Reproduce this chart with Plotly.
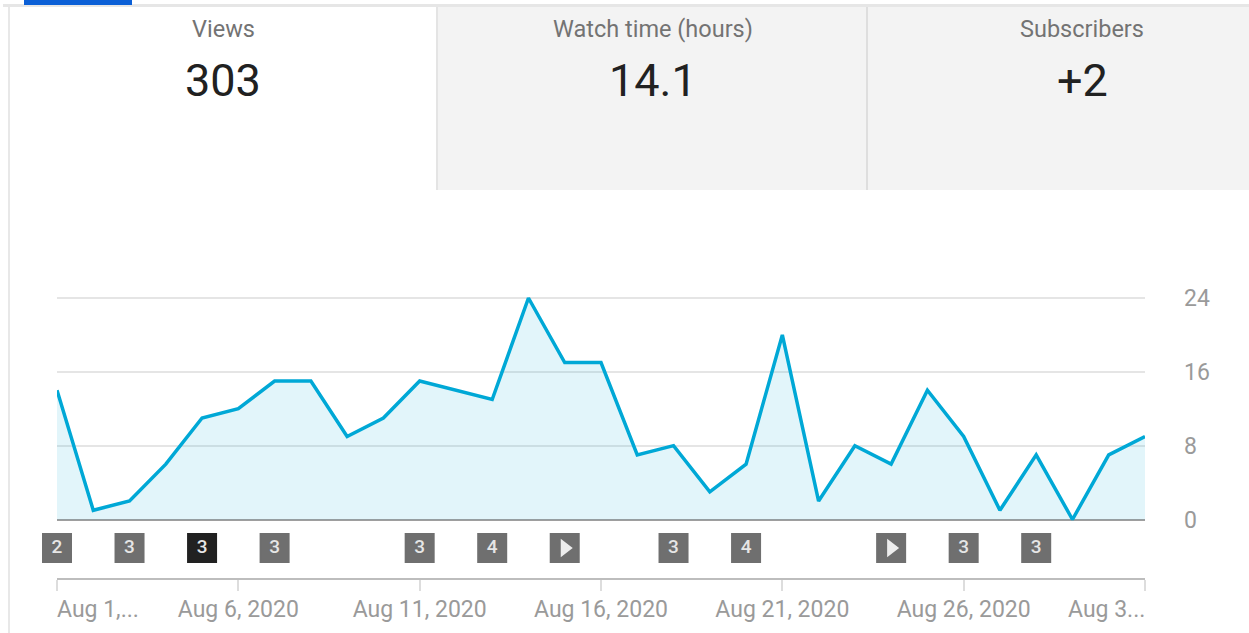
import plotly.graph_objects as go

W, H = 1249, 633
dates = [f"2020-08-{d:02d}" for d in range(1, 32)]
views = [14, 1, 2, 6, 11, 12, 15, 15, 9, 11, 15, 14, 13, 24, 17, 17, 7, 8, 3, 6, 20, 2, 8, 6, 14, 9, 1, 7, 0, 7, 9]

badge_dates = ["2020-08-01", "2020-08-03", "2020-08-05", "2020-08-07", "2020-08-11", "2020-08-13",
               "2020-08-15", "2020-08-18", "2020-08-20", "2020-08-24", "2020-08-26", "2020-08-28"]
badge_labels = ["2", "3", "3", "3", "3", "4", "", "3", "4", "", "3", "3"]
badge_colors = ["#6f6f6f", "#6f6f6f", "#212121"] + ["#6f6f6f"] * 9
badge_y = -3.1
play_dates = ["2020-08-15", "2020-08-24"]

tick_dates = ["2020-08-01", "2020-08-06", "2020-08-11", "2020-08-16", "2020-08-21", "2020-08-26", "2020-08-31"]
tick_text = ["", "Aug 6, 2020", "Aug 11, 2020", "Aug 16, 2020", "Aug 21, 2020", "Aug 26, 2020", ""]
y_ticks = [0, 8, 16, 24]

tab_titles = ["Views", "Watch time (hours)", "Subscribers"]
tab_values = ["303", "14.1", "+2"]
tab_centers = [223, 653, 1082]

FONT = "Roboto"


def px(x):
    return x / W


def py(y):
    return 1 - y / H


fig = go.Figure()
fig.add_trace(go.Scatter(x=dates, y=views, mode="lines", fill="tozeroy", fillcolor="rgba(0,168,214,0.115)",
                         line=dict(color="#00a8d6", width=3.5), hoverinfo="skip", cliponaxis=False))
fig.add_trace(go.Scatter(x=badge_dates, y=[badge_y] * len(badge_dates), mode="markers+text", text=badge_labels,
                         textposition="middle center",
                         textfont=dict(family=FONT, size=19, color="#e6e6e6", weight=500),
                         marker=dict(symbol="square", size=28, color=badge_colors,
                                     line=dict(width=2, color=badge_colors)),
                         hoverinfo="skip", cliponaxis=False))
fig.add_trace(go.Scatter(x=play_dates, y=[badge_y] * len(play_dates), mode="markers",
                         marker=dict(symbol="triangle-right", size=16, color="#ededed"), hoverinfo="skip",
                         cliponaxis=False))

shapes = [
    dict(type="rect", xref="paper", yref="paper", x0=px(438), x1=1, y0=py(190), y1=py(7),
         fillcolor="#f3f3f3", line_width=0, layer="below"),
    dict(type="line", xref="paper", yref="paper", x0=px(437), x1=px(437), y0=py(190), y1=py(7),
         line=dict(color="#e4e4e4", width=2), layer="below"),
    dict(type="line", xref="paper", yref="paper", x0=px(867), x1=px(867), y0=py(190), y1=py(7),
         line=dict(color="#dedede", width=2), layer="below"),
    dict(type="line", xref="paper", yref="paper", x0=px(9), x1=px(9), y0=0, y1=py(7),
         line=dict(color="#e8e8e8", width=2), layer="below"),
    dict(type="rect", xref="paper", yref="paper", x0=px(3), x1=1, y0=py(7), y1=py(4),
         fillcolor="#e6e6e6", line_width=0, layer="below"),
    dict(type="rect", xref="paper", yref="paper", x0=px(24), x1=px(132), y0=py(5), y1=1,
         fillcolor="#0b5fd6", line_width=0, layer="below"),
]

annotations = []
for c, t, v in zip(tab_centers, tab_titles, tab_values):
    annotations.append(dict(x=px(c), y=py(29), xref="paper", yref="paper", text=t, showarrow=False,
                            xanchor="center", yanchor="middle",
                            font=dict(family=FONT, size=23.5, color="#737373")))
    annotations.append(dict(x=px(c), y=py(80), xref="paper", yref="paper", text=v, showarrow=False,
                            xanchor="center", yanchor="middle",
                            font=dict(family=FONT, size=45, color="#212121")))
annotations.append(dict(x=px(57), y=py(609), xref="paper", yref="paper", text="Aug 1,...", xanchor="left",
                        yanchor="middle", xshift=-2, showarrow=False,
                        font=dict(family=FONT, size=23, color="#9a9a9a")))
annotations.append(dict(x=px(1145), y=py(609), xref="paper", yref="paper", text="Aug 3...", xanchor="right",
                        yanchor="middle", xshift=2, showarrow=False,
                        font=dict(family=FONT, size=23, color="#9a9a9a")))

UNIT = (519.5 - 298) / 24
ytop, ybot = 26, (519.5 - 577.5) / UNIT
fig.update_layout(
    width=W, height=H, margin=dict(l=0, r=0, t=0, b=0), paper_bgcolor="white", plot_bgcolor="white",
    showlegend=False, shapes=shapes, annotations=annotations, hovermode=False,
    font=dict(family=FONT),
    xaxis=dict(type="date", domain=[px(57), px(1145)], range=["2020-08-01", "2020-08-31"], tickvals=tick_dates,
               ticktext=tick_text, ticks="outside", ticklen=11, tickwidth=2, tickcolor="#dddddd",
               showgrid=False, showline=True, linecolor="#bdbdbd", linewidth=2, zeroline=False,
               ticklabelstandoff=-1, tickfont=dict(family=FONT, size=23, color="#9a9a9a")),
    yaxis=dict(side="right", domain=[py(519.5 + (-ybot) * UNIT), py(519.5 - ytop * UNIT)], range=[ybot, ytop],
               tickvals=y_ticks, ticktext=[str(v) for v in y_ticks], ticks="", showline=False,
               gridcolor="#e5e5e5", gridwidth=2, zeroline=True, zerolinecolor="#9e9e9e", zerolinewidth=2,
               ticklabelstandoff=38, tickfont=dict(family=FONT, size=23, color="#9a9a9a")),
)

fig.write_html("out.html", post_script="document.body.style.margin='0';", config=dict(displayModeBar=False))
